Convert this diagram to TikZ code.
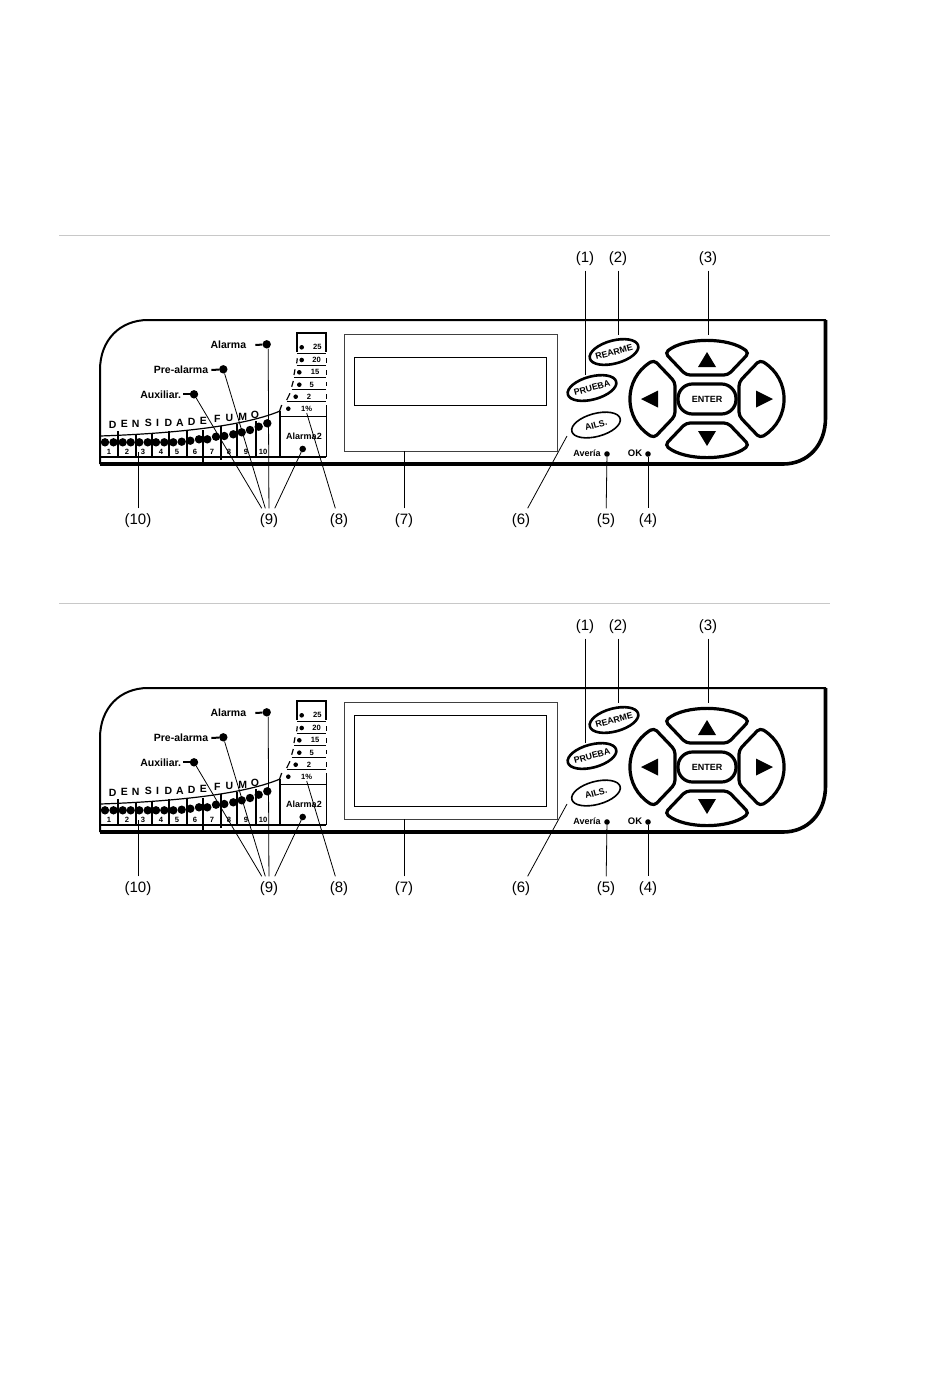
\documentclass[tikz,border=0pt]{standalone}
\usepackage{fontspec}
\setmainfont{Liberation Sans}
\usetikzlibrary{shapes.geometric}
\definecolor{rulegrey}{HTML}{C8C8C8}
\tikzset{panelline/.style={line width=2pt,black},
         heavyline/.style={line width=3.6pt,black},
         leader/.style={line width=0.8pt,black},
         partlabel/.style={font=\fontsize{15}{18}\selectfont,inner sep=1pt,minimum height=24pt,minimum width=20pt},
         ledtext/.style={font=\fontsize{10.5}{12}\selectfont\bfseries,inner sep=0pt},
         tinytext/.style={font=\fontsize{7.6}{9}\selectfont\bfseries,inner sep=0pt},
         bigled/.style={circle,fill=black,inner sep=0pt,minimum size=8.4pt},
         smallled/.style={circle,fill=black,inner sep=0pt,minimum size=4.6pt},
         softkey/.style={ellipse,draw=black,fill=white,inner xsep=-8pt,inner ysep=-3pt,minimum width=50pt,minimum height=23pt,rotate=15,
                         font=\fontsize{8.8}{11}\selectfont\bfseries},
         navkey/.style={line width=3.2pt,black,rounded corners=4pt}}
\begin{document}
\begin{tikzpicture}[x=1pt,y=-1pt]
    \useasboundingbox (0,0) rectangle (950,1387);
    \foreach \pn/\dy/\wintop/\winbot/\winline in {a/0/357/405/0.7pt,b/368/347/438/1pt}{
    \begin{scope}[shift={(0,\dy)}]
        \coordinate (\pn-ruleleft) at (59,235);
        \coordinate (\pn-ruleright) at (830,235);
        \draw[rulegrey,line width=0.8pt] (\pn-ruleleft) -- (\pn-ruleright);

        % housing
        \draw[panelline] (100,464) -- (100,370) .. controls (100,340) and (120,320) .. (148,320) -- (826,320);
        \draw[heavyline] (100,464) -- (783,464) .. controls (808,464) and (825.5,445) .. (825.5,418) -- (825.5,320);
        \draw[line width=1.2pt] (100,457) -- (326,457);

        % density bar
        \draw[line width=1.2pt] (100,436) .. controls (160,434) and (240,428) .. (280,411);
        \foreach \tx/\ta/\tb in {118/431/457,136/434/457,152/433/457,169/431/457,187/431/457,203/430/462,221/426/460,237/424/457,256/421/457}
            \draw[line width=1.1pt] (\tx,\ta) -- (\tx,\tb);
        \foreach \lx/\ly in {105/442.3,113.5/442.3,122.7/442.3,130.7/442.3,139.3/442.3,147.7/442.3,156/442.3,164.3/442.3,173.3/442.3,181.7/441.7,190.3/440.7,199/439.3,207.3/439.3,216/436.7,224.3/436,233.3/434.3,241.7/432.3,250/430,258.7/426.7,267.3/423.3}
            \node[bigled] at (\lx,\ly) {};
        \foreach \nx/\nt in {109/1,127/2,143/3,161/4,177/5,195/6,212/7,229/8,246/9,263/10}
            \node[tinytext] at (\nx,452) {\nt};
        \foreach \cx/\cy/\ct in {112.7/425/D,124.3/424/E,135.7/423.7/N,148.3/423.3/S,157.7/423/I,168.3/423/D,180/422.7/A,191.7/422/D,203.3/421/E,217.3/419.3/F,229.3/418/U,242.7/416.7/M,255/415/O}
            \node[font=\fontsize{10.5}{12}\selectfont\bfseries,inner sep=0pt] at (\cx,\cy) {\ct};

        % threshold column
        \draw[line width=1.8pt] (297.3,352) -- (297.3,333) -- (326,333) -- (326,352);
        \foreach \rl/\ry in {297.3/353.3,296.7/365.7,294.3/377.3,291.7/389.3,286.7/401.7,280/416.7}
            \draw[line width=0.9pt] (\rl,\ry) -- (326,\ry);
        \foreach \ua/\va/\ub/\vb in {297.3/358.3/296.7/363.3,295/369.3/294/375,293.3/381/291.7/386.7,290/393.3/286.7/400,281.7/405/279.3/411.7}
            \draw[line width=1.2pt] (\ua,\va) -- (\ub,\vb);
        \foreach \va/\vb in {358/363,370/375,382/386,394/399,405/457}
            \draw[line width=0.9pt] (326,\va) -- (326,\vb);
        \draw[line width=2pt] (279.5,411) -- (279.5,457);
        \foreach \sx/\sy/\vx/\vt in {301.7/347.3/317.3/25,301.7/360/316.7/20,299.3/372.3/315/15,299.3/384.7/311.7/5,295.7/396.7/309/2,288.3/408.7/306.7/1\%}{
            \node[smallled] at (\sx,\sy) {};
            \node[tinytext] (\pn-pct\vx) at (\vx,\sy) {\vt};
        }
        \node[font=\fontsize{9}{11}\selectfont\bfseries,inner sep=0pt] (\pn-alarmados) at (304,436) {Alarma2};
        \node[bigled,minimum size=6.6pt] (\pn-ledalarmados) at (302.7,449) {};

        % led captions
        \node[ledtext] (\pn-alarma) at (228.3,345) {Alarma};
        \node[bigled] (\pn-ledalarma) at (266.7,344.3) {};
        \node[ledtext] (\pn-prealarma) at (181,370) {Pre-alarma};
        \node[bigled] (\pn-ledprealarma) at (223.3,369.3) {};
        \node[ledtext] (\pn-auxiliar) at (160.7,394.3) {Auxiliar.};
        \node[bigled] (\pn-ledauxiliar) at (194,394.3) {};
        \draw[line width=2pt] ([xshift=9pt]\pn-alarma.east) -- (\pn-ledalarma);
        \draw[line width=2pt] ([xshift=3pt]\pn-prealarma.east) -- (\pn-ledprealarma);
        \draw[line width=2pt] ([xshift=2pt]\pn-auxiliar.east) -- (\pn-ledauxiliar);

        % display
        \node[draw=black!75,line width=\winline,minimum width=213.5pt,minimum height=116.5pt,inner sep=0pt] (\pn-display) at (451,393) {};
        \draw[black,line width=\winline] (354.5,\wintop) rectangle (546.5,\winbot);

        % soft keys
        \node[softkey,line width=2.6pt] (\pn-rearme) at (614,352) {REARME};
        \node[softkey,line width=2.6pt] (\pn-prueba) at (592,388) {PRUEBA};
        \node[softkey,line width=1.6pt] (\pn-ails) at (596,425) {AILS.};
        \node[ledtext,font=\fontsize{9}{11}\selectfont\bfseries] (\pn-averia) at (587,453) {Avería};
        \node[smallled,minimum size=5.6pt] (\pn-ledaveria) at (607,454) {};
        \node[ledtext,font=\fontsize{9.5}{11}\selectfont\bfseries] (\pn-ok) at (635,453) {OK};
        \node[smallled,minimum size=5.6pt] (\pn-ledok) at (648,454) {};

        % navigation pad
        \begin{scope}[shift={(707,399)}]
            \node[draw=black,line width=3.2pt,rounded corners=14.5pt,minimum width=58pt,minimum height=30pt,inner sep=0pt,
                  font=\fontsize{9}{11}\selectfont\bfseries] (\pn-enter) at (0,0) {ENTER};
            \foreach \s in {1,-1}{
                \draw[navkey] (-21,\s*24) -- (-42,\s*46) .. controls (-22,\s*62) and (22,\s*62) .. (42,\s*46) -- (21,\s*24) -- cycle;
                \draw[navkey] (\s*32,-17) -- (\s*53,-39) .. controls (\s*84,-20) and (\s*84,20) .. (\s*53,39) -- (\s*32,17) -- cycle;
                \fill (-9,\s*32) -- (9,\s*32) -- (0,\s*47) -- cycle;
                \fill (\s*49,-8.5) -- (\s*49,8.5) -- (\s*66,0) -- cycle;
            }
        \end{scope}

        % part numbers
        \node[partlabel] (\pn-lab1) at (585,258.5) {(1)};
        \node[partlabel] (\pn-lab2) at (618,258.5) {(2)};
        \node[partlabel] (\pn-lab3) at (708,258.5) {(3)};
        \node[partlabel] (\pn-lab4) at (648,520.5) {(4)};
        \node[partlabel] (\pn-lab5) at (606,520.5) {(5)};
        \node[partlabel] (\pn-lab6) at (521,520.5) {(6)};
        \node[partlabel] (\pn-lab7) at (404,520.5) {(7)};
        \node[partlabel] (\pn-lab8) at (339,520.5) {(8)};
        \node[partlabel] (\pn-lab9) at (269,520.5) {(9)};
        \node[partlabel] (\pn-lab10) at (138,520.5) {(10)};

        \coordinate (\pn-tip1) at (585,375);
        \coordinate (\pn-tip2) at (618,335);
        \coordinate (\pn-tip3) at (708,335);
        \coordinate (\pn-tip6) at (567,436);
        \coordinate (\pn-tip7) at (404,451);
        \coordinate (\pn-tip8) at (306.7,413);
        \coordinate (\pn-tip10) at (138,452);

        \draw[leader] (\pn-lab1) -- (\pn-tip1);
        \draw[leader] (\pn-lab2) -- (\pn-tip2);
        \draw[leader] (\pn-lab3) -- (\pn-tip3);
        \draw[leader] (\pn-ledok) -- (\pn-lab4);
        \draw[leader] (\pn-ledaveria) -- (\pn-lab5);
        \draw[leader] (\pn-lab6) -- (\pn-tip6);
        \draw[leader] (\pn-lab7) -- (\pn-tip7);
        \draw[leader] (\pn-lab8) -- (\pn-tip8);
        \draw[leader] (\pn-lab10) -- (\pn-tip10);
        \draw[leader] ([xshift=1.5pt]\pn-ledalarma.south) -- (\pn-lab9);
        \draw[leader] (\pn-ledprealarma) -- (\pn-lab9);
        \draw[leader] (\pn-ledauxiliar) -- (\pn-lab9);
        \draw[leader] (\pn-ledalarmados) -- (\pn-lab9);
    \end{scope}
    }
\end{tikzpicture}
\end{document}
